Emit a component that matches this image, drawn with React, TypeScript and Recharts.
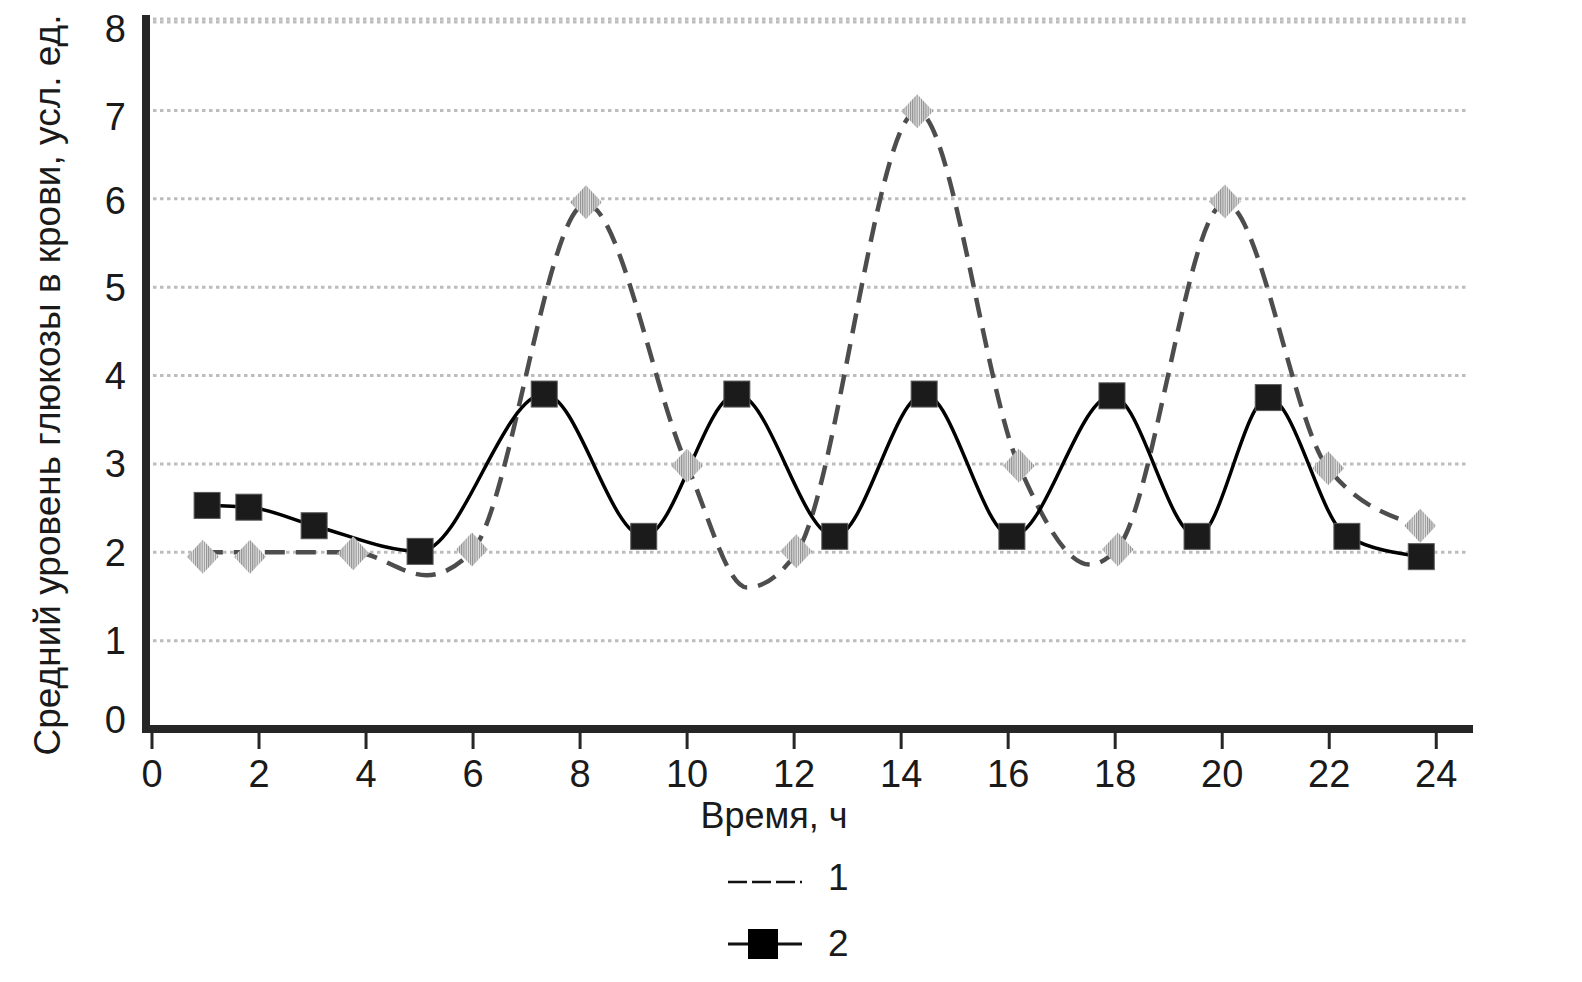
import React from 'react';
import { ComposedChart, Line, XAxis, YAxis, CartesianGrid, Legend } from 'recharts';

// Series 1 (dashed curve) — trace of the drawn curve, hours / glucose
const traceHours1 = [0.95, 1.83, 3.76, 5.13, 5.98, 8.11, 10.0, 11.12, 12.04, 14.3, 16.2, 17.53, 18.05, 20.05, 21.98, 23.7];
const traceGlucose1 = [2.0, 2.0, 2.0, 1.74, 2.01, 5.94, 2.98, 1.6, 1.99, 6.99, 2.98, 1.86, 2.05, 5.95, 2.95, 2.3];

// Series 1 measured points (hatched diamonds)
const measuredHours1 = [0.95, 1.83, 3.76, 5.98, 8.11, 10.0, 12.04, 14.3, 16.2, 18.05, 20.05, 21.98, 23.7];
const measuredGlucose1 = [1.95, 1.95, 1.99, 2.03, 5.96, 2.98, 2.01, 6.99, 2.98, 2.03, 5.97, 2.95, 2.3];

// Series 2 (solid line with squares)
const hours2 = [1.03, 1.81, 3.03, 5.01, 7.33, 9.19, 10.93, 12.76, 14.43, 16.07, 17.94, 19.53, 20.86, 22.33, 23.72];
const glucose2 = [2.53, 2.51, 2.3, 2.01, 3.79, 2.18, 3.79, 2.18, 3.79, 2.18, 3.77, 2.18, 3.75, 2.18, 1.95];

const xTicks = [0, 2, 4, 6, 8, 10, 12, 14, 16, 18, 20, 22, 24];
const yTicks = [0, 1, 2, 3, 4, 5, 6, 7, 8];
const seriesNames = ['1', '2'];
const xTitle = 'Время, ч';
const yTitle = 'Средний уровень глюкозы в крови, усл. ед.';

const zip = (ts: number[], vs: number[]) => ts.map((t, i) => ({ t, v: vs[i] }));
const trace1 = zip(traceHours1, traceGlucose1);
const measured1 = zip(measuredHours1, measuredGlucose1);
const series2 = zip(hours2, glucose2);

const FONT = '"Liberation Sans", Arial, sans-serif';
const INK = '#1a1a1a';
const AXIS = '#262626';

const renderDiamond = (p: any) => {
  const { cx, cy, index } = p;
  if (cx == null || cy == null) return <g key={`d${index}`} />;
  const w = 16;
  const h = 17;
  return (
    <polygon
      key={`d${index}`}
      points={`${cx},${cy - h} ${cx + w},${cy} ${cx},${cy + h} ${cx - w},${cy}`}
      fill="url(#hatchFill)"
    />
  );
};

const renderSquare = (p: any) => {
  const { cx, cy, index } = p;
  if (cx == null || cy == null) return <g key={`s${index}`} />;
  return (
    <rect key={`s${index}`} x={cx - 13} y={cy - 13} width={26} height={26} fill="#1b1b1b" stroke="#5a5a5a" strokeWidth={1} />
  );
};

// y tick labels: the topmost sit a little below their grid line, the "0" sits above the axis
const YTick = (props: any) => {
  const { x, y, payload } = props;
  const v = Number(payload && payload.value);
  const nudge = v === 0 ? -9 : v >= 7 ? 6 : v === 6 ? 2 : 0;
  return (
    <text x={x} y={y + nudge} dy="0.355em" textAnchor="end" fontSize={38} fontFamily={FONT} fill={INK}>
      {payload.value}
    </text>
  );
};

const LegendContent = (props: any) => {
  const payload = (props.payload || []).filter((p: any) => seriesNames.includes(String(p.value)));
  const items = payload.length ? payload.map((p: any) => String(p.value)) : seriesNames;
  return (
    <svg width={200} height={120} style={{ overflow: 'visible' }}>
      {items.map((name: string, i: number) => {
        const y = i === 0 ? 32 : 94;
        const ty = i === 0 ? 27 : 93;
        return (
          <g key={name}>
            {i === 0 ? (
              <line x1={20} x2={94} y1={y} y2={y} stroke="#111" strokeWidth={2.5} strokeDasharray="19 5" />
            ) : (
              <g>
                <line x1={20} x2={94} y1={y} y2={y} stroke="#111" strokeWidth={3} />
                <rect x={40} y={y - 15} width={30} height={30} fill="#000" />
              </g>
            )}
            <text x={120} y={ty + 13} fontSize={37} fontFamily={FONT} fill={INK}>
              {name}
            </text>
          </g>
        );
      })}
    </svg>
  );
};

const XTitle = (props: any) => {
  const vb = props.viewBox || { x: 138, y: 721 };
  return (
    <text x={vb.x + 628} y={vb.y + 99} textAnchor="middle" fontSize={36} fontFamily={FONT} fill={INK}>
      {xTitle}
    </text>
  );
};

const YTitle = (props: any) => {
  const vb = props.viewBox || { x: 0, y: 11 };
  const x = vb.x + 39;
  const y = vb.y + 366;
  return (
    <text
      x={x}
      y={y + 13}
      transform={`rotate(-90 ${x} ${y})`}
      textAnchor="middle"
      fontSize={37}
      fontFamily={FONT}
      fill={INK}
    >
      {yTitle}
    </text>
  );
};

export default function App() {
  return (
    <div style={{ width: 1566, height: 966 }}>
      <ComposedChart width={1566} height={966} margin={{ top: 11, right: 105, bottom: 185, left: 0 }}>
        <defs>
          <pattern id="hatchFill" width={2.2} height={4} patternUnits="userSpaceOnUse">
            <rect x={0} y={0} width={2.2} height={4} fill="#e4e4e4" />
            <rect x={0} y={0} width={1.1} height={4} fill="#8e8e8e" />
          </pattern>
        </defs>
        <CartesianGrid vertical={false} stroke="#bdbdbd" strokeWidth={3} strokeDasharray="3.5 3.5" />
        <XAxis
          type="number"
          dataKey="t"
          domain={[-0.112, 24.612]}
          allowDataOverflow
          ticks={xTicks}
          interval={0}
          height={60}
          tickSize={20}
          tickMargin={11}
          tick={{ fontSize: 38, fill: INK, fontFamily: FONT }}
          axisLine={{ stroke: AXIS, strokeWidth: 8, strokeLinecap: 'square' }}
          tickLine={{ stroke: AXIS, strokeWidth: 3 }}
          label={<XTitle />}
        />
        <YAxis
          type="number"
          dataKey="v"
          domain={[0, 8.034]}
          allowDataOverflow
          ticks={yTicks}
          interval={0}
          width={138}
          tickLine={false}
          tickSize={10}
          tickMargin={10}
          tick={<YTick />}
          axisLine={{ stroke: AXIS, strokeWidth: 8, strokeLinecap: 'square' }}
          label={<YTitle />}
        />
        <Line
          name={seriesNames[0]}
          data={trace1}
          dataKey="v"
          type="monotone"
          stroke="#4d4d4d"
          strokeWidth={4.5}
          strokeDasharray="20 11"
          dot={false}
          activeDot={false}
          isAnimationActive={false}
        />
        <Line
          name="measured-1"
          legendType="none"
          data={measured1}
          dataKey="v"
          stroke="none"
          dot={renderDiamond}
          activeDot={false}
          isAnimationActive={false}
        />
        <Line
          name={seriesNames[1]}
          data={series2}
          dataKey="v"
          type="monotone"
          stroke="#000"
          strokeWidth={3.5}
          dot={renderSquare}
          activeDot={false}
          isAnimationActive={false}
        />
        <Legend
          layout="horizontal"
          verticalAlign="middle"
          align="center"
          content={<LegendContent />}
          wrapperStyle={{ left: 700, top: 842, width: 200, height: 120 }}
        />
      </ComposedChart>
    </div>
  );
}
